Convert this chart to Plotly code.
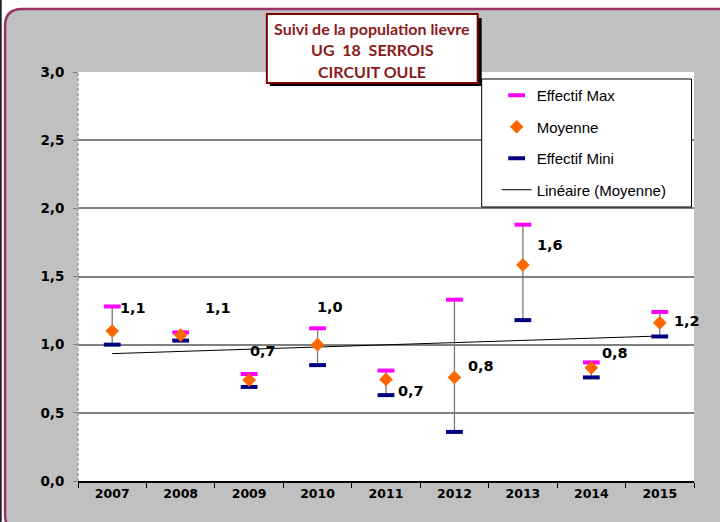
# -*- coding: utf-8 -*-

import numpy as np
from plotly import graph_objects as go

# Data
years = ['2007', '2008', '2009', '2010', '2011', '2012', '2013', '2014', '2015']
effectif_max = [1.28, 1.09, 0.785, 1.12, 0.81, 1.33, 1.88, 0.87, 1.24]
moyenne = [1.10, 1.07, 0.74, 1.00, 0.745, 0.76, 1.585, 0.83, 1.16]
effectif_mini = [1.00, 1.03, 0.69, 0.85, 0.63, 0.36, 1.18, 0.76, 1.06]
y_ticks = [0.0, 0.5, 1.0, 1.5, 2.0, 2.5, 3.0]
title_lines = ['Suivi de la population lievre', 'UG  18  SERROIS', 'CIRCUIT OULE']

# Label offsets (pixels) of the mean labels, as placed in the original
label_offsets = [(21, 23), (37, 27), (14, 29), (12, 38), (25, -12),
                 (27, 11), (27, 20), (24, 15), (27, 2)]

# Plot area in pixels
W, H = 720, 522
PL, PR, PT, PB = 78, 694.5, 72, 481

BOLD_FONT = 'DejaVu Sans, Verdana'
TEXT_FONT = 'Liberation Sans, Arial'


def px_x(px):
    return (px - PL) / (PR - PL)


def px_y(py):
    return (PB - py) / (PB - PT)


def rounded_rect(x0, y0, x1, y1, r):
    """SVG path (paper coords) for a rounded rectangle given in pixels"""
    pts = [('M', x0 + r, y0), ('L', x1 - r, y0), ('Q', x1, y0, x1, y0 + r),
           ('L', x1, y1 - r), ('Q', x1, y1, x1 - r, y1), ('L', x0 + r, y1),
           ('Q', x0, y1, x0, y1 - r), ('L', x0, y0 + r), ('Q', x0, y0, x0 + r, y0)]
    out = ''
    for p in pts:
        cmd, coords = p[0], p[1:]
        xy = []
        for i in range(0, len(coords), 2):
            xy.append(f'{px_x(coords[i]):.5f},{px_y(coords[i + 1]):.5f}')
        out += cmd + ' '.join(xy) + ' '
    return out + 'Z'


def plot_chart():
    fig = go.Figure()

    # Linear trend of the mean
    xi = np.arange(len(years))
    slope_, intercept_ = np.polyfit(xi, moyenne, 1)
    fig.add_trace(go.Scatter(x=years, y=slope_ * xi + intercept_, mode='lines',
                             line=dict(color='black', width=1),
                             name='Linéaire (Moyenne)', legendgroup='d', legendrank=4))

    # Max with range bar down to min
    fig.add_trace(go.Scatter(x=years, y=effectif_max, mode='markers',
                             marker=dict(symbol='line-ew', size=12,
                                         line=dict(color='#FF00FF', width=4)),
                             error_y=dict(type='data', symmetric=False,
                                          array=[0] * len(years),
                                          arrayminus=[a - b for a, b in zip(effectif_max, effectif_mini)],
                                          color='#7a7a7a', thickness=1.3, width=0),
                             name='Effectif Max', legendgroup='a', legendrank=1))

    fig.add_trace(go.Scatter(x=years, y=effectif_mini, mode='markers',
                             marker=dict(symbol='line-ew', size=12,
                                         line=dict(color='#000080', width=4)),
                             name='Effectif Mini', legendgroup='c', legendrank=3))

    fig.add_trace(go.Scatter(x=years, y=moyenne, mode='markers',
                             marker=dict(symbol='diamond', size=10.5, color='#FF6600'),
                             name='Moyenne', legendgroup='b', legendrank=2))

    # Mean value labels (x given as category index)
    for i_, (val_, (dx_, dy_)) in enumerate(zip(moyenne, label_offsets)):
        fig.add_annotation(x=i_, y=val_, text=f'{val_:.1f}'.replace('.', ','),
                           showarrow=False, xshift=dx_, yshift=dy_,
                           font=dict(family=BOLD_FONT, size=14.5, color='black', weight='bold'))

    shapes_ = []
    # White outside of the rounded frame, then the frame border
    outer_ = (f'M{px_x(-2):.5f},{px_y(-2):.5f} L{px_x(W + 2):.5f},{px_y(-2):.5f} '
              f'L{px_x(W + 2):.5f},{px_y(H + 2):.5f} L{px_x(-2):.5f},{px_y(H + 2):.5f} Z ')
    frame_ = rounded_rect(5, 9, 745, 532, 17)
    shapes_.append(dict(type='path', xref='paper', yref='paper', path=outer_ + frame_,
                        fillcolor='white', fillrule='evenodd', line=dict(width=0), layer='below'))
    shapes_.append(dict(type='path', xref='paper', yref='paper', path=frame_,
                        line=dict(color='#993366', width=2.5), layer='below'))
    shapes_.append(dict(type='line', xref='paper', yref='paper', x0=px_x(0.8), x1=px_x(0.8),
                        y0=px_y(0), y1=px_y(H), line=dict(color='black', width=1.5)))
    # Dashed left axis
    shapes_.append(dict(type='line', xref='paper', yref='paper', x0=0, x1=0, y0=0, y1=1,
                        line=dict(color='#909090', width=1.2, dash='3px,2px')))
    # Title box with shadow
    shapes_.append(dict(type='rect', xref='paper', yref='paper',
                        x0=px_x(270), x1=px_x(482), y0=px_y(18), y1=px_y(86),
                        fillcolor='black', line=dict(width=0)))
    shapes_.append(dict(type='rect', xref='paper', yref='paper',
                        x0=px_x(267), x1=px_x(478), y0=px_y(14), y1=px_y(83),
                        fillcolor='white', line=dict(color='#800000', width=2)))
    # Legend box
    shapes_.append(dict(type='rect', xref='paper', yref='paper',
                        x0=px_x(482), x1=px_x(692), y0=px_y(79), y1=px_y(207),
                        fillcolor='white', line=dict(color='black', width=1)))

    for i_, line_ in enumerate(title_lines):
        fig.add_annotation(xref='paper', yref='paper', x=px_x(372.5), y=px_y(28.5 + 21.3 * i_),
                           text=line_, showarrow=False, xanchor='center', yanchor='middle',
                           font=dict(family='Lato, Open Sans', size=16, color='#8B1A1A', weight='bold'))

    fig.update_layout(width=W, height=H,
                      margin=dict(l=PL, r=W - PR, t=PT, b=H - PB, pad=0),
                      paper_bgcolor='#C0C0C0', plot_bgcolor='white',
                      separators=', ',
                      shapes=shapes_,
                      showlegend=True,
                      legend=dict(x=px_x(497), y=px_y(79), xanchor='left', yanchor='top',
                                  traceorder='grouped', tracegroupgap=9,
                                  bgcolor='rgba(0,0,0,0)', borderwidth=0,
                                  font=dict(family=TEXT_FONT, size=15, color='black')))
    fig.update_xaxes(type='category', range=[-0.5, 8.5],
                     showline=True, linecolor='black', linewidth=1.5,
                     ticks='outside', tickson='boundaries', ticklen=5, tickcolor='black', tickwidth=1,
                     showgrid=False,
                     tickfont=dict(family=BOLD_FONT, size=12.5, color='black', weight='bold'))
    fig.update_yaxes(range=[0, 3], tickvals=y_ticks, tickformat='.1f',
                     showgrid=True, gridcolor='#808080', gridwidth=1.5,
                     showline=False, zeroline=False,
                     ticks='outside', ticklen=4, tickcolor='#808080',
                     ticklabelstandoff=6,
                     tickfont=dict(family=BOLD_FONT, size=13.5, color='black', weight='bold'))

    # Remove the page margin so the figure sits at the window origin
    fig.write_html('out.html', config={'displayModeBar': False},
                   post_script="document.body.style.margin='0';")


if __name__ == '__main__':
    plot_chart()
